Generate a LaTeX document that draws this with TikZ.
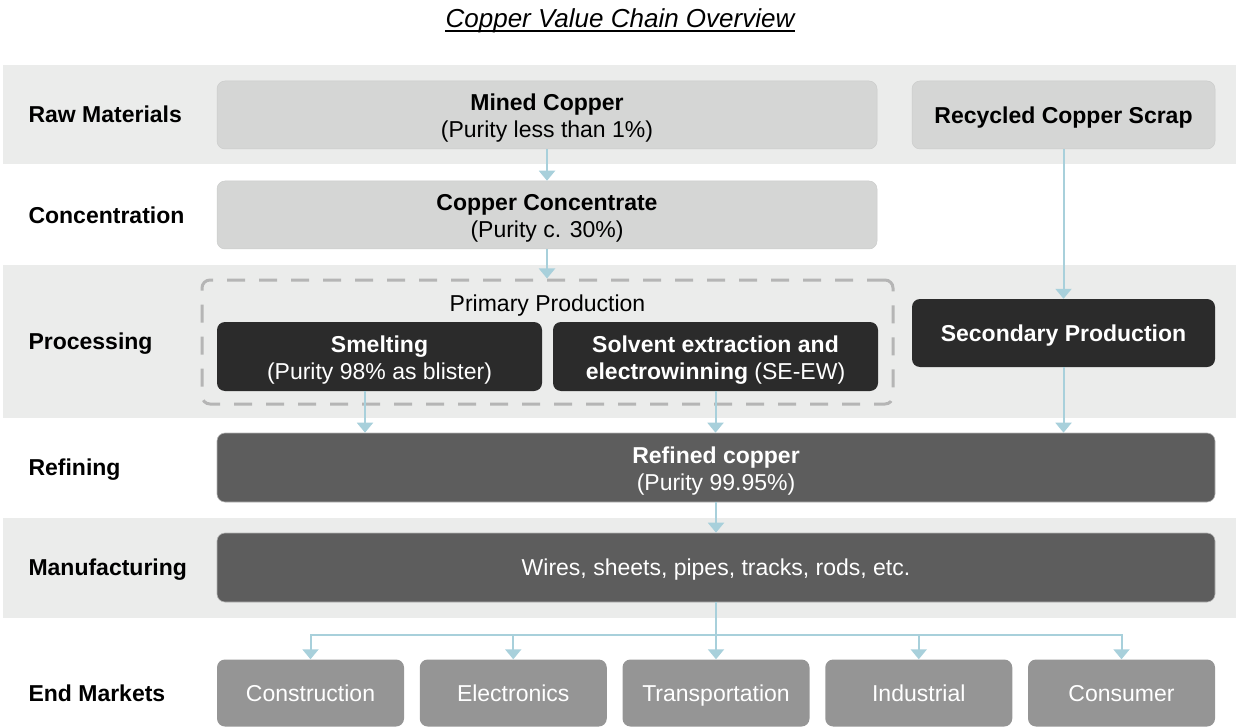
\documentclass[tikz,border=0pt]{standalone}
\usepackage{fontspec}
\setmainfont{Liberation Sans}
\usepackage{tikz}
\usetikzlibrary{arrows.meta}

\definecolor{bandgray}{HTML}{EBECEB}
\definecolor{rawgray}{HTML}{D5D6D5}
\definecolor{rawedge}{HTML}{CBCCCB}
\definecolor{darkfill}{HTML}{2B2B2B}
\definecolor{midfill}{HTML}{5D5D5D}
\definecolor{midedge}{HTML}{B4B4B4}
\definecolor{mktfill}{HTML}{959595}
\definecolor{dashgray}{HTML}{B5B5B5}
\definecolor{flowblue}{HTML}{A8D0DB}

% taller first line so two-line labels sit a bit lower in their boxes
\newcommand{\headstrut}{\rule{0pt}{23pt}}

\begin{document}
\begin{tikzpicture}[
      x=1pt, y=-1pt,
      every node/.style={font=\fontsize{23}{27}\selectfont},
      rowlbl/.style={anchor=west},
      box/.style={
        rounded corners=8pt, align=center,
        inner sep=0pt, minimum height=68pt
      },
      oneline/.style={text height=16.5pt, text depth=0pt},
      rawbox/.style={box, fill=rawgray, draw=rawedge, line width=0.5pt},
      darkbox/.style={box, fill=darkfill, text=white},
      midbox/.style={box, fill=midfill, draw=midedge, line width=0.6pt, text=white},
      mktbox/.style={
        box, oneline, fill=mktfill, text=white,
        minimum width=187pt, minimum height=67pt
      },
      dashbox/.style={
        draw=dashgray, line width=3pt, rounded corners=8pt,
        dash pattern=on 18pt off 14pt
      },
      flowline/.style={draw=flowblue, line width=2pt},
      flow/.style={flowline, -{Triangle[width=16pt,length=10pt]}}
    ]
      \useasboundingbox (0,0) rectangle (1236,727);

      \node[inner sep=0pt, anchor=base, font=\fontsize{26}{30}\selectfont\itshape]
        (title) at (620,28) {Copper Value Chain Overview};
      \draw[line width=2pt] ([yshift=-3pt]title.base west) -- ([yshift=-3pt]title.base east);

      \foreach \top/\bot in {65/164,265/418,518/618} {
        \fill[bandgray] (3,\top) rectangle (1236,\bot);
      }

      \foreach \y/\txt [count=\i] in {114.5/Raw Materials,215/Concentration,
          341.5/Processing,467.5/Refining,567.5/Manufacturing,693/End Markets} {
        \node[rowlbl, oneline] (row\i) at (25,\y) {\bfseries\txt};
      }

      \node[rawbox, minimum width=660pt] (mined) at (547,115)
        {\headstrut\textbf{Mined Copper}\\(Purity less than 1\%)};
      \node[rawbox, minimum width=660pt] (conc) at (547,215)
        {\headstrut\textbf{Copper Concentrate}\\(Purity c. 30\%)};
      \node[rawbox, oneline, minimum width=303pt] (scrap) at (1063.5,115)
        {\textbf{Recycled Copper Scrap}};

      \node[dashbox, minimum width=691pt, minimum height=124pt] (primary) at (547.5,342) {};
      \node[oneline] (primlbl) at (547.5,303) {Primary Production};
      \node[darkbox, minimum width=325pt, minimum height=69pt] (smelt) at (379.5,356.5)
        {\headstrut\textbf{Smelting}\\(Purity 98\% as blister)};
      \node[darkbox, minimum width=325pt, minimum height=69pt] (sxew) at (715.5,356.5)
        {\headstrut\textbf{Solvent extraction and}\\\textbf{electrowinning} (SE-EW)};
      \node[darkbox, oneline, minimum width=303pt] (second) at (1063.5,333)
        {\textbf{Secondary Production}};

      \node[midbox, minimum width=998pt, minimum height=69pt] (refined) at (716,467.5)
        {\headstrut\textbf{Refined copper}\\(Purity 99.95\%)};
      \node[midbox, oneline, minimum width=998pt, minimum height=69pt] (manuf) at (716,567.5)
        {Wires, sheets, pipes, tracks, rods, etc.};

      \foreach \txt [count=\i from 0] in {Construction,Electronics,Transportation,Industrial,Consumer} {
        \node[mktbox] (mkt\i) at (310.5+202.75*\i,693) {\txt};
      }

      \draw[flow] (mined) -- (conc);
      \draw[flow] (conc.south) -- (conc.south |- primary.north);
      \draw[flow] (scrap) -- (second);
      \draw[flow] ([xshift=-14.5pt]smelt.south) -- ([xshift=-14.5pt]smelt.south |- refined.north);
      \draw[flow] (sxew.south) -- (sxew.south |- refined.north);
      \draw[flow] (second.south) -- (second.south |- refined.north);
      \draw[flow] (refined) -- (manuf);

      \coordinate (split) at (716,635);
      \draw[flowline] (manuf.south) -- (split);
      \foreach \i in {0,...,4} {
        \draw[flow] (split) -| (mkt\i.north);
      }
    \end{tikzpicture}
\end{document}
